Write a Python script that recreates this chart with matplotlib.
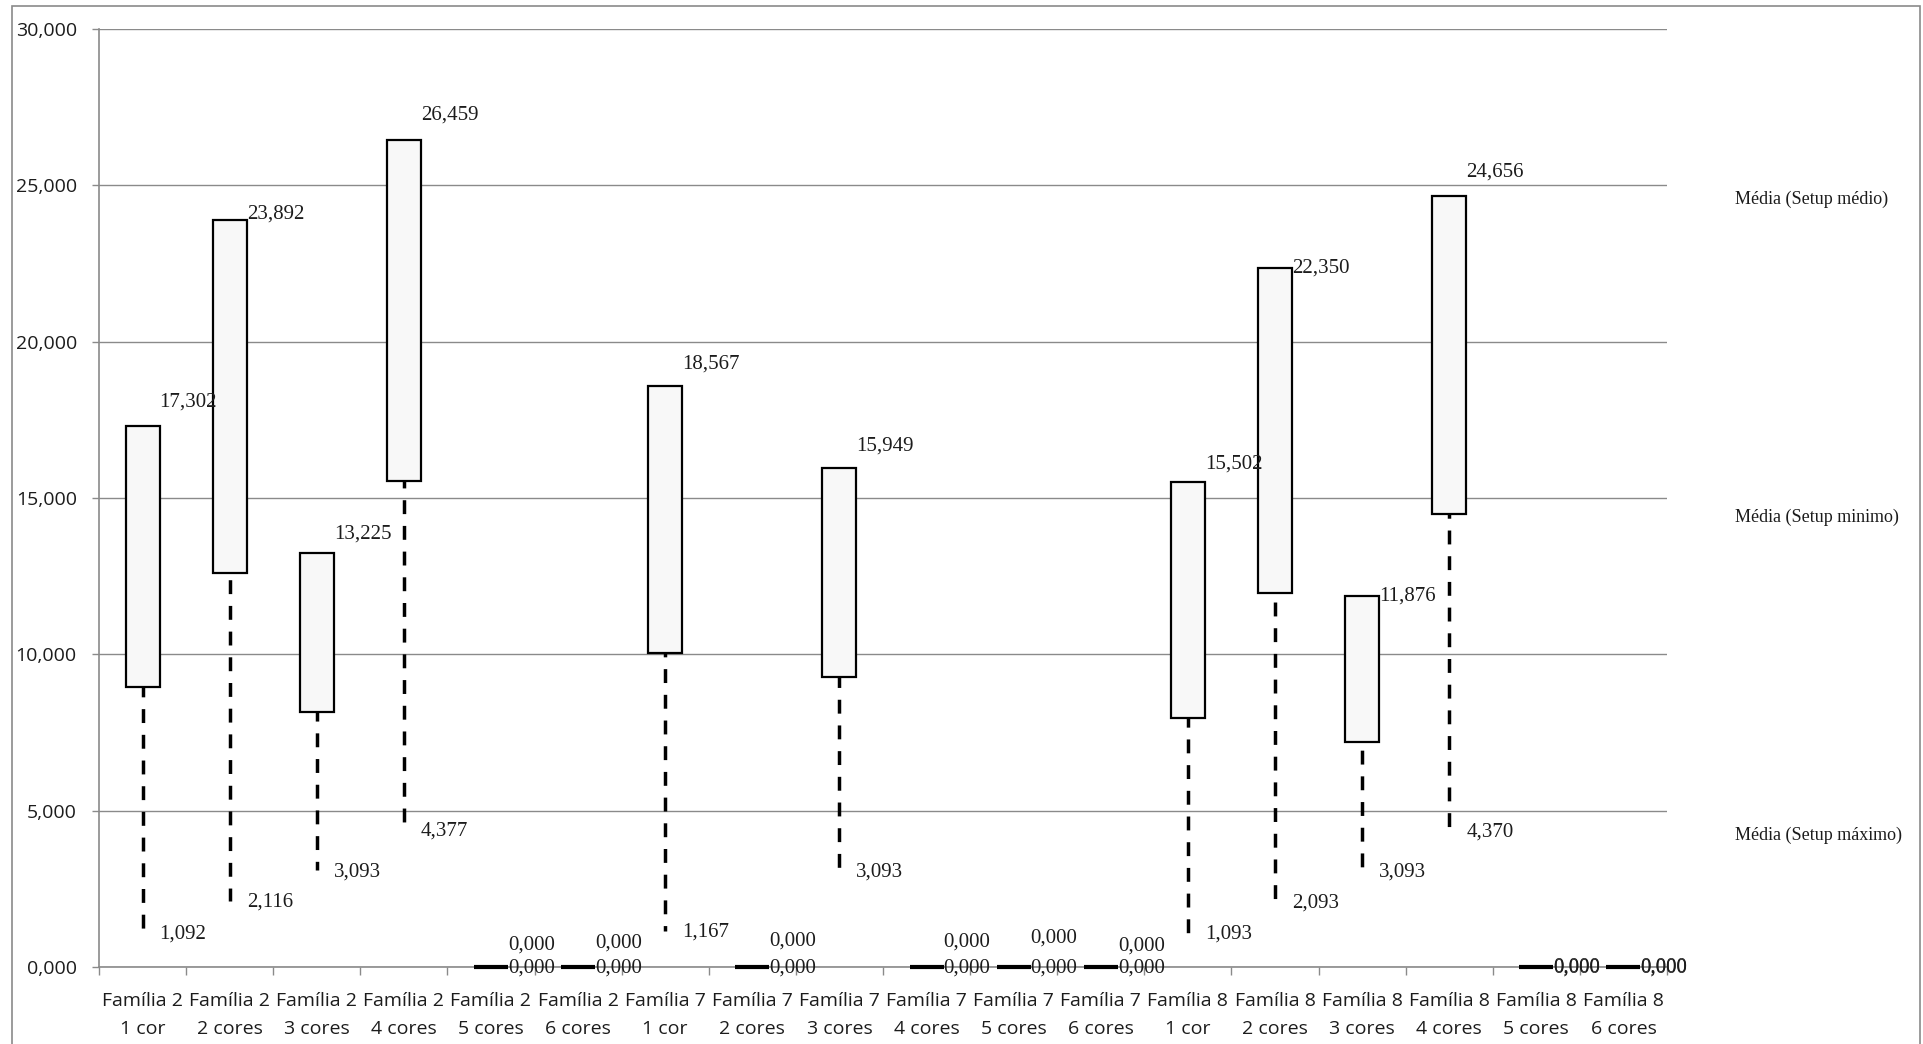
import numpy as np
import matplotlib.pyplot as plt
import matplotlib.transforms as mtransforms
from matplotlib.patches import Rectangle

# dados
familias = ["Família 2"] * 6 + ["Família 7"] * 6 + ["Família 8"] * 6
cores = ["1 cor", "2 cores", "3 cores", "4 cores", "5 cores", "6 cores"] * 3

topo = [17.302, 23.892, 13.225, 26.459, 0.0, 0.0,
        18.567, 0.0, 15.949, 0.0, 0.0, 0.0,
        15.502, 22.350, 11.876, 24.656, 0.0, 0.0]
base_caixa = [8.95, 12.59, 8.16, 15.53, 0.0, 0.0,
              10.03, 0.0, 9.28, 0.0, 0.0, 0.0,
              7.95, 11.96, 7.21, 14.50, 0.0, 0.0]
minimo = [1.092, 2.116, 3.093, 4.377, 0.0, 0.0,
          1.167, 0.0, 3.093, 0.0, 0.0, 0.0,
          1.093, 2.093, 3.093, 4.370, 0.0, 0.0]

legenda = ["Média (Setup médio)", "Média (Setup minimo)", "Média (Setup máximo)"]
legenda_y = [24.55, 14.37, 4.22]

# deslocamento vertical (pt) dos rótulos superiores, como o Excel os colocou
desloc_topo = [17, 4, 14, 18, 16, 17, 16, 19, 16, 18, 21, 15, 13, 0, 0, 17.5, 0, 0]

fmt = lambda v: f"{v:.3f}".replace(".", ",")

plt.rcParams["lines.scale_dashes"] = False
fig = plt.figure(figsize=(19.23, 10.44), dpi=100)
ax = fig.add_axes([99 / 1923, 1 - 967 / 1044, (1667 - 99) / 1923, (967 - 29) / 1044])

n = len(topo)
x = np.arange(n)
bw = 0.39
cinza = "#8a8a8a"
txt = "#1c1c1c"
serif = "Liberation Serif"

# linhas tracejadas (máximo -> mínimo), atrás das caixas
for i in range(n):
    if topo[i] > minimo[i]:
        ax.plot([x[i], x[i]], [topo[i], minimo[i]], color="black", lw=2.5,
                ls=(0, (10, 8.5)), zorder=2, solid_capstyle="butt")

# caixas
for i in range(n):
    h = topo[i] - base_caixa[i]
    if h > 0:
        ax.add_patch(Rectangle((x[i] - bw / 2, base_caixa[i]), bw, h,
                               facecolor="#f8f8f8", edgecolor="black", lw=1.6, zorder=3))
    else:
        ax.plot([x[i] - bw / 2, x[i] + bw / 2], [topo[i], topo[i]],
                color="black", lw=3, zorder=4, solid_capstyle="butt", clip_on=False)

# rótulos de valores
for i in range(n):
    ax.annotate(fmt(topo[i]), xy=(x[i] + bw / 2, topo[i]), xytext=(0, desloc_topo[i]),
                textcoords="offset points", ha="left", va="center",
                fontsize=15, family=serif, color=txt, zorder=5)
    ax.annotate(fmt(minimo[i]), xy=(x[i] + bw / 2, minimo[i]), xytext=(0, -1),
                textcoords="offset points", ha="left", va="center",
                fontsize=15, family=serif, color=txt, zorder=5)

# textos da legenda à direita
tr = mtransforms.blended_transform_factory(ax.transAxes, ax.transData)
for s, yy in zip(legenda, legenda_y):
    ax.text(1.0434, yy, s, transform=tr, ha="left", va="center",
            fontsize=13, family=serif, color=txt, clip_on=False)

# eixos
ax.set_xlim(-0.5, n - 0.5)
ax.set_ylim(0, 30)
ax.set_yticks(np.arange(0, 30.1, 5))
ax.set_yticklabels([fmt(v) for v in np.arange(0, 30.1, 5)])
ax.yaxis.grid(True, color=cinza, lw=1.0)
ax.set_axisbelow(True)

ax.set_xticks(np.arange(n + 1) - 0.5)
ax.set_xticklabels([])
ax.set_xticks(x, minor=True)
ax.set_xticklabels([f"{f}\n{c}" for f, c in zip(familias, cores)], minor=True,
                   fontsize=14, family="Open Sans", color=txt, linespacing=1.72)
ax.tick_params(axis="x", which="major", direction="out", length=6, width=1, color=cinza)
ax.tick_params(axis="x", which="minor", length=0, pad=18)
ax.tick_params(axis="y", direction="out", length=5, width=1, color=cinza, pad=11,
               labelsize=14, labelcolor=txt)
for lab in ax.get_yticklabels():
    lab.set_family("Open Sans")

for s in ["top", "right"]:
    ax.spines[s].set_visible(False)
for s in ["left", "bottom"]:
    ax.spines[s].set_color(cinza)
    ax.spines[s].set_linewidth(1.2)

# moldura externa do gráfico
fig.add_artist(Rectangle((12 / 1923, -0.01), (1920 - 12) / 1923, 1.01 - 6 / 1044,
                         transform=fig.transFigure, fill=False, edgecolor=cinza, lw=1.2))

fig.savefig("out.png", dpi=100)
